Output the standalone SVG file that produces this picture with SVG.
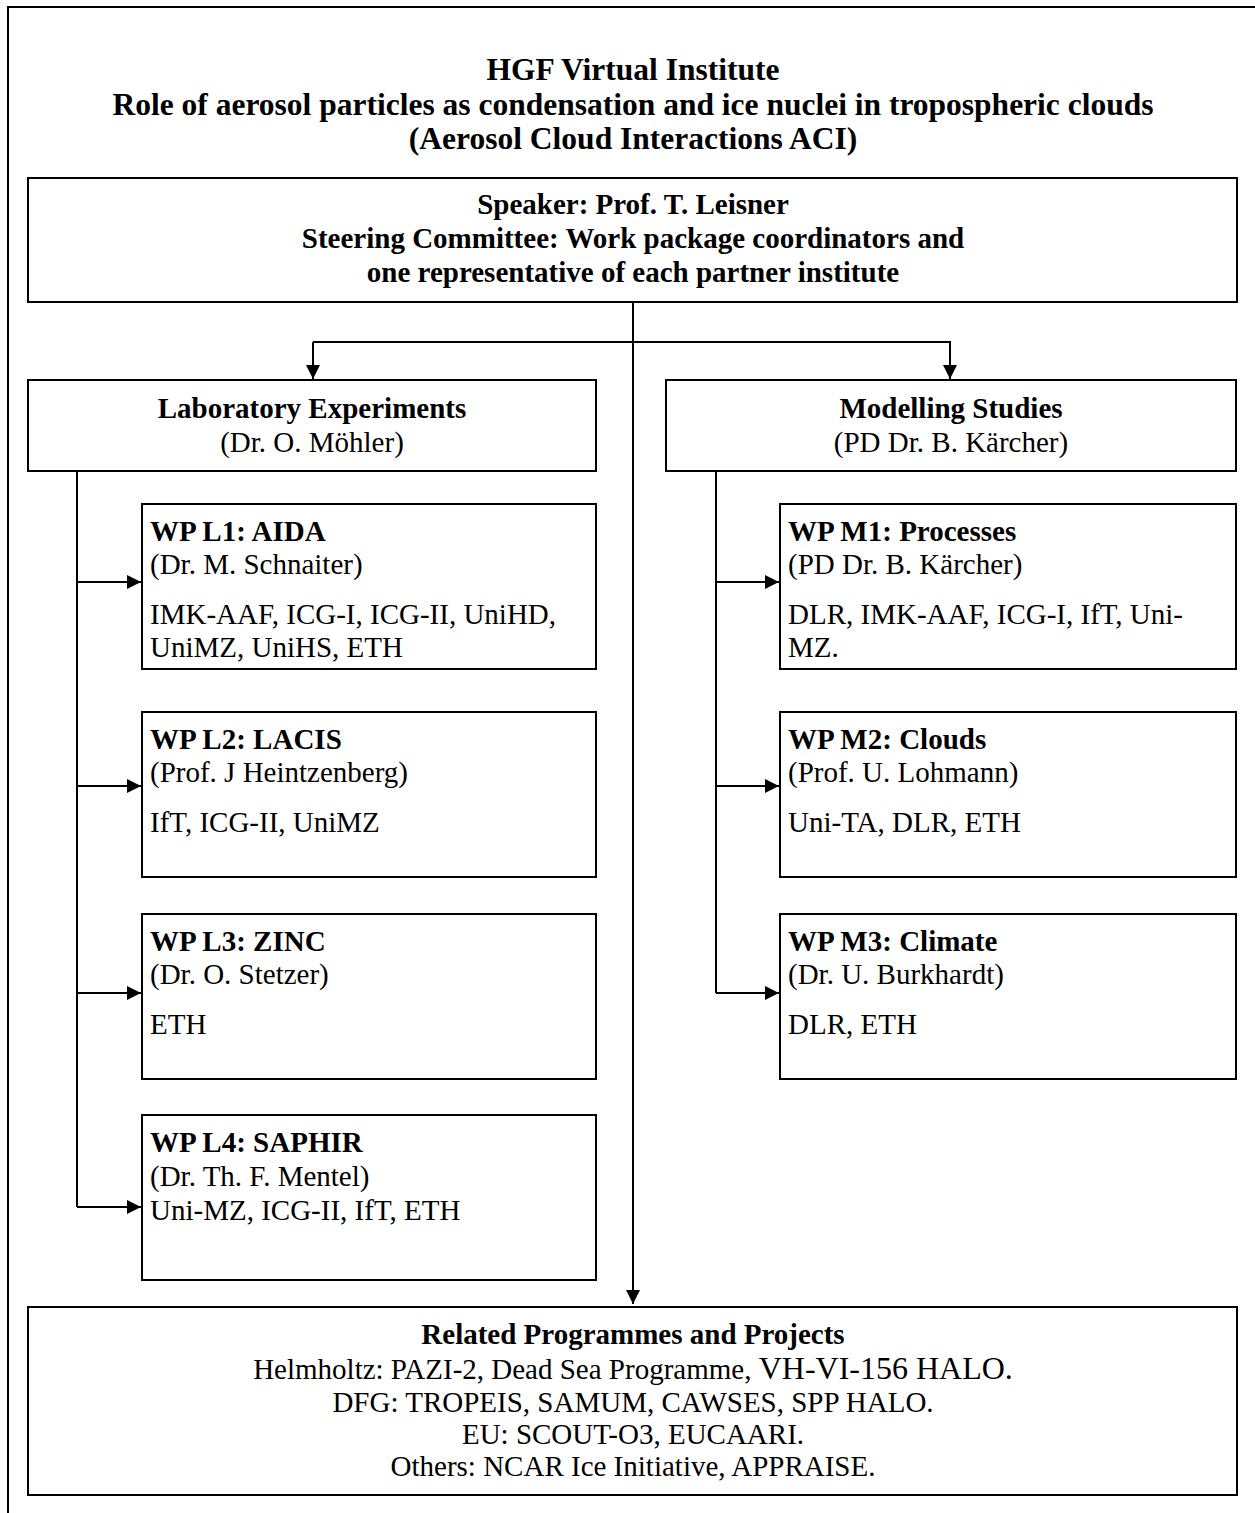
<svg xmlns="http://www.w3.org/2000/svg" width="1255" height="1513" viewBox="0 0 1255 1513">
<style>
.box{fill:#fff;stroke:#000;stroke-width:2}
.ln{fill:none;stroke:#000;stroke-width:2}
text{font-family:"Liberation Serif","Times New Roman",serif;fill:#000}
.t{font-size:31.5px;font-weight:bold;text-anchor:middle}
.h{font-size:29px;font-weight:bold}
.b{font-size:29px}
.c{text-anchor:middle}
</style>
<defs>
<marker id="ah" markerUnits="userSpaceOnUse" markerWidth="14" markerHeight="14" refX="14" refY="7" orient="auto">
<path d="M0,0 L14,7 L0,14 z" fill="#000"/>
</marker>
</defs>
<rect width="1255" height="1513" fill="#fff"/>
<path class="ln" d="M8,1513 V7 H1255"/>
<g id="title">
<text class="t" x="633" y="80">HGF Virtual Institute</text>
<text class="t" x="633" y="115">Role of aerosol particles as condensation and ice nuclei in tropospheric clouds</text>
<text class="t" x="633" y="149">(Aerosol Cloud Interactions ACI)</text>
</g>
<g id="connectors">
<path class="ln" d="M633,302 V1304" marker-end="url(#ah)"/>
<path class="ln" d="M313,342 H950 V379" marker-end="url(#ah)"/>
<path class="ln" d="M313,342 V379" marker-end="url(#ah)"/>
<path class="ln" d="M77,471 V1207"/>
<path class="ln" d="M77,582 H141" marker-end="url(#ah)"/>
<path class="ln" d="M77,786 H141" marker-end="url(#ah)"/>
<path class="ln" d="M77,993 H141" marker-end="url(#ah)"/>
<path class="ln" d="M77,1207 H141" marker-end="url(#ah)"/>
<path class="ln" d="M716,471 V993"/>
<path class="ln" d="M716,582 H779" marker-end="url(#ah)"/>
<path class="ln" d="M716,786 H779" marker-end="url(#ah)"/>
<path class="ln" d="M716,993 H779" marker-end="url(#ah)"/>
</g>
<g id="speaker">
<rect class="box" x="28" y="178" width="1209" height="124"/>
<text class="h c" x="633" y="214">Speaker: Prof. T. Leisner</text>
<text class="h c" x="633" y="248">Steering Committee: Work package coordinators and</text>
<text class="h c" x="633" y="282">one representative of each partner institute</text>
</g>
<g id="lab">
<rect class="box" x="28" y="380" width="568" height="91"/>
<text class="h c" x="312" y="418">Laboratory Experiments</text>
<text class="b c" x="312" y="452">(Dr. O. Möhler)</text>
</g>
<g id="model">
<rect class="box" x="666" y="380" width="570" height="91"/>
<text class="h c" x="951" y="418">Modelling Studies</text>
<text class="b c" x="951" y="452">(PD Dr. B. Kärcher)</text>
</g>
<g id="wpl1">
<rect class="box" x="142" y="504" width="454" height="165"/>
<text class="h" x="150" y="541">WP L1: AIDA</text>
<text class="b" x="150" y="574">(Dr. M. Schnaiter)</text>
<text class="b" x="150" y="624">IMK-AAF, ICG-I, ICG-II, UniHD,</text>
<text class="b" x="150" y="657">UniMZ, UniHS, ETH</text>
</g>
<g id="wpl2">
<rect class="box" x="142" y="712" width="454" height="165"/>
<text class="h" x="150" y="749">WP L2: LACIS</text>
<text class="b" x="150" y="782">(Prof. J Heintzenberg)</text>
<text class="b" x="150" y="832">IfT, ICG-II, UniMZ</text>
</g>
<g id="wpl3">
<rect class="box" x="142" y="914" width="454" height="165"/>
<text class="h" x="150" y="951">WP L3: ZINC</text>
<text class="b" x="150" y="984">(Dr. O. Stetzer)</text>
<text class="b" x="150" y="1034">ETH</text>
</g>
<g id="wpl4">
<rect class="box" x="142" y="1115" width="454" height="165"/>
<text class="h" x="150" y="1152">WP L4: SAPHIR</text>
<text class="b" x="150" y="1186">(Dr. Th. F. Mentel)</text>
<text class="b" x="150" y="1220">Uni-MZ, ICG-II, IfT, ETH</text>
</g>
<g id="wpm1">
<rect class="box" x="780" y="504" width="456" height="165"/>
<text class="h" x="788" y="541">WP M1: Processes</text>
<text class="b" x="788" y="574">(PD Dr. B. Kärcher)</text>
<text class="b" x="788" y="624">DLR, IMK-AAF, ICG-I, IfT, Uni-</text>
<text class="b" x="788" y="657">MZ.</text>
</g>
<g id="wpm2">
<rect class="box" x="780" y="712" width="456" height="165"/>
<text class="h" x="788" y="749">WP M2: Clouds</text>
<text class="b" x="788" y="782">(Prof. U. Lohmann)</text>
<text class="b" x="788" y="832">Uni-TA, DLR, ETH</text>
</g>
<g id="wpm3">
<rect class="box" x="780" y="914" width="456" height="165"/>
<text class="h" x="788" y="951">WP M3: Climate</text>
<text class="b" x="788" y="984">(Dr. U. Burkhardt)</text>
<text class="b" x="788" y="1034">DLR, ETH</text>
</g>
<g id="related">
<rect class="box" x="28" y="1307" width="1209" height="188"/>
<text class="h c" x="633" y="1344">Related Programmes and Projects</text>
<text class="b c" x="633" y="1379">Helmholtz: PAZI-2, Dead Sea Programme, <tspan font-size="32">VH-VI-156 HALO.</tspan></text>
<text class="b c" x="633" y="1412">DFG: TROPEIS, SAMUM, CAWSES, SPP HALO.</text>
<text class="b c" x="633" y="1444">EU: SCOUT-O3, EUCAARI.</text>
<text class="b c" x="633" y="1476">Others: NCAR Ice Initiative, APPRAISE.</text>
</g>
</svg>
